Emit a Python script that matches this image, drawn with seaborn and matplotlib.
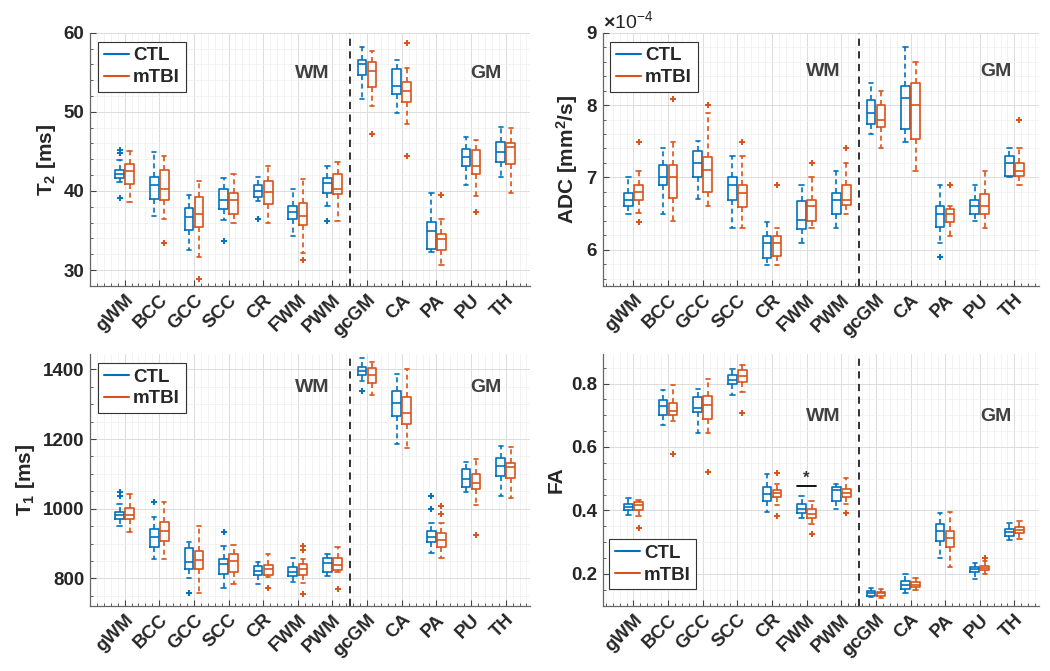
import numpy as np
import pandas as pd
import matplotlib
matplotlib.use("Agg")
import matplotlib.pyplot as plt
from matplotlib.lines import Line2D
from matplotlib.ticker import MultipleLocator, ScalarFormatter
import seaborn as sns

REGIONS = ["gWM", "BCC", "GCC", "SCC", "CR", "FWM", "PWM",
           "gcGM", "CA", "PA", "PU", "TH"]
GROUPS = ["CTL", "mTBI"]

# box summaries per region: [lower whisker, Q1, median, Q3, upper whisker]
T2_CTL = [[41.1, 41.6, 42.2, 42.7, 43.9], [36.9, 39.0, 40.7, 41.8, 44.9],
          [32.5, 35.1, 36.7, 37.9, 39.5], [36.3, 37.7, 38.9, 40.2, 41.7],
          [38.7, 39.2, 40.0, 40.7, 41.8], [34.3, 36.4, 37.4, 38.1, 40.2],
          [38.1, 39.7, 41.0, 41.6, 43.2], [51.6, 54.6, 56.0, 56.6, 58.2],
          [49.8, 52.3, 53.3, 55.4, 56.6], [32.3, 32.7, 34.9, 36.1, 39.7],
          [40.7, 43.2, 44.3, 45.3, 46.8], [41.8, 43.7, 44.9, 46.2, 48.1]]
T2_MTBI = [[38.6, 40.9, 42.5, 43.4, 45.1], [36.5, 38.9, 40.3, 42.6, 44.4],
           [31.6, 35.5, 37.1, 39.3, 41.3], [35.9, 37.1, 38.9, 39.8, 42.2],
           [36.0, 38.3, 39.9, 41.2, 43.1], [32.2, 35.7, 36.9, 38.5, 41.5],
           [36.2, 39.6, 40.2, 42.1, 43.7], [50.7, 53.2, 55.1, 56.3, 57.7],
           [48.5, 51.2, 52.6, 53.8, 55.6], [30.6, 32.6, 33.9, 34.6, 36.5],
           [39.4, 42.1, 43.2, 45.2, 46.4], [39.7, 43.4, 45.5, 46.0, 47.9]]
T2_CTL_OUT = [[45.2, 44.8, 39.1], [], [], [33.7], [36.5], [], [36.2],
              [], [], [], [], []]
T2_MTBI_OUT = [[], [33.4], [28.9], [], [], [31.3], [],
               [47.2], [58.7, 44.4], [39.5], [37.4], []]

ADC_CTL = [[6.50, 6.60, 6.69, 6.79, 7.00], [6.50, 6.90, 7.01, 7.17, 7.40],
           [6.70, 7.00, 7.20, 7.37, 7.50], [6.30, 6.69, 6.90, 7.00, 7.30],
           [5.79, 5.89, 6.09, 6.19, 6.39], [6.10, 6.29, 6.41, 6.67, 6.90],
           [6.30, 6.50, 6.69, 6.79, 7.09], [7.60, 7.74, 7.89, 8.07, 8.30],
           [7.49, 7.67, 8.10, 8.27, 8.80], [6.10, 6.32, 6.50, 6.60, 6.90],
           [6.40, 6.50, 6.60, 6.69, 6.90], [7.00, 7.02, 7.20, 7.30, 7.40]]
ADC_MTBI = [[6.51, 6.69, 6.80, 6.90, 7.09], [6.40, 6.71, 7.00, 7.17, 7.49],
            [6.60, 6.80, 7.10, 7.28, 7.89], [6.30, 6.59, 6.79, 6.90, 7.30],
            [5.79, 5.92, 6.09, 6.19, 6.30], [6.30, 6.40, 6.60, 6.69, 7.00],
            [6.50, 6.62, 6.69, 6.90, 7.20], [7.40, 7.69, 7.80, 8.00, 8.20],
            [7.09, 7.53, 8.00, 8.30, 8.60], [6.19, 6.39, 6.50, 6.57, 6.60],
            [6.30, 6.50, 6.60, 6.77, 7.09], [6.90, 7.02, 7.09, 7.20, 7.40]]
ADC_CTL_OUT = [[], [], [], [], [], [], [], [], [], [5.9], [], []]
ADC_MTBI_OUT = [[7.49, 6.39], [8.09], [8.0], [7.49], [6.9], [7.2], [7.4],
                [], [], [6.9], [], [7.8]]
ADC_UNIT = 1e-4

T1_CTL = [[951, 969, 982, 991, 1013], [855, 889, 920, 941, 977],
          [800, 826, 846, 886, 905], [771, 812, 841, 855, 894],
          [784, 810, 822, 834, 848], [790, 807, 819, 832, 859],
          [807, 819, 843, 859, 870], [1367, 1384, 1396, 1408, 1432],
          [1185, 1266, 1302, 1338, 1386], [874, 905, 920, 937, 960],
          [1047, 1061, 1085, 1113, 1133], [1037, 1095, 1122, 1146, 1180]]
T1_MTBI = [[932, 969, 982, 1001, 1042], [855, 908, 936, 961, 1018],
           [757, 826, 853, 879, 951], [784, 817, 851, 870, 896],
           [803, 810, 826, 838, 870], [788, 810, 826, 840, 855],
           [819, 824, 838, 859, 889], [1326, 1360, 1384, 1403, 1422],
           [1173, 1243, 1276, 1322, 1400], [859, 891, 910, 929, 960],
           [1011, 1057, 1075, 1100, 1144], [1032, 1089, 1119, 1130, 1176]]
T1_CTL_OUT = [[1047, 1037], [1018], [759], [934], [], [], [],
              [1338], [], [1036, 998], [], []]
T1_MTBI_OUT = [[], [], [], [], [771], [894, 881, 754], [769],
               [], [], [1009, 985], [924], []]

FA_CTL = [[0.384, 0.400, 0.411, 0.419, 0.439], [0.668, 0.700, 0.728, 0.747, 0.779],
          [0.644, 0.711, 0.723, 0.758, 0.782], [0.765, 0.800, 0.810, 0.828, 0.847],
          [0.395, 0.429, 0.453, 0.474, 0.514], [0.377, 0.392, 0.405, 0.419, 0.445],
          [0.403, 0.429, 0.463, 0.474, 0.482], [0.126, 0.129, 0.139, 0.147, 0.156],
          [0.141, 0.153, 0.166, 0.177, 0.200], [0.249, 0.303, 0.335, 0.356, 0.392],
          [0.184, 0.207, 0.214, 0.221, 0.234], [0.308, 0.318, 0.332, 0.340, 0.361]]
FA_MTBI = [[0.382, 0.400, 0.418, 0.426, 0.434], [0.681, 0.700, 0.714, 0.740, 0.795],
           [0.644, 0.689, 0.732, 0.761, 0.814], [0.774, 0.805, 0.823, 0.842, 0.858],
           [0.418, 0.442, 0.455, 0.463, 0.482], [0.356, 0.376, 0.389, 0.405, 0.429],
           [0.421, 0.442, 0.456, 0.466, 0.503], [0.124, 0.131, 0.138, 0.144, 0.153],
           [0.149, 0.158, 0.166, 0.174, 0.187], [0.221, 0.286, 0.314, 0.334, 0.395],
           [0.198, 0.211, 0.219, 0.226, 0.240], [0.310, 0.329, 0.339, 0.347, 0.365]]
FA_CTL_OUT = [[] for _ in REGIONS]
FA_MTBI_OUT = [[0.344], [0.577], [0.521], [0.708], [0.519, 0.382], [0.324],
               [0.392], [], [], [], [0.249], []]
FA_SIG_REGION = "FWM"
FA_SIG_Y = 0.476

COLORS = {"CTL": "#0072BD", "mTBI": "#D95319"}
DODGE = 0.145

sns.set_theme(style="white")
plt.rcParams["font.family"] = ["Liberation Sans", "DejaVu Sans"]
plt.rcParams["font.weight"] = "bold"
plt.rcParams["mathtext.fontset"] = "custom"
plt.rcParams["mathtext.rm"] = "Liberation Sans"
plt.rcParams["mathtext.bf"] = "Liberation Sans:bold"
plt.rcParams["mathtext.it"] = "Liberation Sans:italic"


def long_table(ctl, mtbi, scale=1.0):
    rows = []
    for grp, summ in (("CTL", ctl), ("mTBI", mtbi)):
        for i, five in enumerate(summ):
            for v in five:
                rows.append({"pos": i, "value": v * scale, "group": grp})
    return pd.DataFrame(rows)


def draw_panel(ax, ctl, mtbi, ctl_out, mtbi_out, ylim, ylabel,
               major, minor, xlim, scale=1.0):
    df = long_table(ctl, mtbi, scale)
    sns.boxplot(data=df, x="pos", y="value", hue="group", hue_order=GROUPS,
                palette=COLORS, native_scale=True, orient="x",
                width=0.58, gap=0.14, fill=False, whis=(0, 100),
                linewidth=1.2, legend=False, ax=ax,
                whiskerprops=dict(linestyle=(0, (3, 2.2))))
    for grp, outs, off in (("CTL", ctl_out, -DODGE), ("mTBI", mtbi_out, DODGE)):
        for i, vals in enumerate(outs):
            if vals:
                ax.plot([i + off] * len(vals), np.array(vals) * scale,
                        linestyle="none", marker="+", ms=5, mew=1.4,
                        color=COLORS[grp], zorder=3)
    ax.axvline(6.5, color="#222222", lw=1.3, ls=(0, (4, 3)), zorder=2)
    ax.set_xlim(*xlim)
    ax.set_ylim(ylim[0] * scale, ylim[1] * scale)
    ax.set_xticks(range(len(REGIONS)))
    ax.set_xticklabels(REGIONS, rotation=45, ha="right",
                       rotation_mode="anchor", fontsize=13.5, fontweight="bold")
    ax.xaxis.set_minor_locator(MultipleLocator(0.2))
    ax.yaxis.set_major_locator(MultipleLocator(major * scale))
    ax.yaxis.set_minor_locator(MultipleLocator(minor * scale))
    ax.tick_params(axis="both", which="both", direction="in",
                   top=False, right=False, left=True, bottom=True,
                   color="#444444")
    ax.tick_params(axis="both", which="major", length=4, width=0.8,
                   labelsize=13.5, pad=4)
    ax.tick_params(axis="both", which="minor", length=2, width=0.6)
    ax.set_xlabel("")
    ax.set_ylabel(ylabel, fontsize=15, fontweight="bold")
    ax.grid(True, which="major", color="#dcdcdc", lw=0.7)
    ax.grid(True, which="minor", color="#eeeeee", lw=0.5)
    ax.set_axisbelow(True)
    for s in ("top", "right"):
        ax.spines[s].set_visible(False)
    for s in ("left", "bottom"):
        ax.spines[s].set_color("#666666")
        ax.spines[s].set_linewidth(0.9)
    for lab in ax.get_yticklabels():
        lab.set_fontweight("bold")


def add_legend(ax, loc, anchor):
    handles = [Line2D([], [], color=COLORS[g], lw=1.5) for g in GROUPS]
    leg = ax.legend(handles, GROUPS, loc=loc, bbox_to_anchor=anchor,
                    borderaxespad=0, fancybox=False, framealpha=1,
                    edgecolor="#333333", handlelength=1.35,
                    handletextpad=0.2, labelspacing=0.25, borderpad=0.3,
                    prop={"size": 13.5, "weight": "bold"})
    leg.get_frame().set_linewidth(0.8)


def add_zone_labels(ax, y):
    kw = dict(transform=ax.transAxes, ha="center", va="center",
              fontsize=14, fontweight="bold", color="#404040")
    ax.text(0.505, y, "WM", **kw)
    ax.text(0.90, y, "GM", **kw)


fig = plt.figure(figsize=(10.5, 6.71), dpi=100)
ax_t2 = fig.add_axes([0.0857, 0.5738, 0.4190, 0.3775])
ax_adc = fig.add_axes([0.5743, 0.5738, 0.4152, 0.3775])
ax_t1 = fig.add_axes([0.0857, 0.0976, 0.4190, 0.3748])
ax_fa = fig.add_axes([0.5743, 0.0976, 0.4152, 0.3748])

draw_panel(ax_t2, T2_CTL, T2_MTBI, T2_CTL_OUT, T2_MTBI_OUT, (28, 60),
           r"T$_\mathbf{2}$ [ms]", 10, 2, (-1.0, 11.7))
draw_panel(ax_adc, ADC_CTL, ADC_MTBI, ADC_CTL_OUT, ADC_MTBI_OUT, (5.5, 9.0),
           r"ADC [mm$^\mathbf{2}$/s]", 1, 0.2, (-0.88, 11.71), scale=ADC_UNIT)
draw_panel(ax_t1, T1_CTL, T1_MTBI, T1_CTL_OUT, T1_MTBI_OUT, (722, 1444),
           r"T$_\mathbf{1}$ [ms]", 200, 50, (-1.0, 11.7))
draw_panel(ax_fa, FA_CTL, FA_MTBI, FA_CTL_OUT, FA_MTBI_OUT, (0.1, 0.893),
           "FA", 0.2, 0.05, (-0.88, 11.71))

fmt = ScalarFormatter(useMathText=True)
fmt.set_powerlimits((0, 0))
ax_adc.yaxis.set_major_formatter(fmt)
ax_adc.yaxis.get_offset_text().set_fontsize(14)
ax_adc.yaxis.get_offset_text().set_fontweight("normal")
for lab in ax_adc.get_yticklabels():
    lab.set_fontweight("bold")

# significance marker
sig_x = REGIONS.index(FA_SIG_REGION)
ax_fa.plot([sig_x - 0.27, sig_x + 0.27], [FA_SIG_Y, FA_SIG_Y],
           color="black", lw=1.3)
ax_fa.text(sig_x, FA_SIG_Y + 0.002, "*", ha="center", va="bottom",
           fontsize=12, fontweight="bold", color="#333333")

add_legend(ax_t2, "upper left", (0.019, 0.965))
add_legend(ax_adc, "upper left", (0.017, 0.965))
add_legend(ax_t1, "upper left", (0.019, 0.965))
add_legend(ax_fa, "lower left", (0.014, 0.064))

add_zone_labels(ax_t2, 0.84)
add_zone_labels(ax_adc, 0.845)
add_zone_labels(ax_t1, 0.865)
add_zone_labels(ax_fa, 0.75)

fig.savefig("out.png", dpi=100)
